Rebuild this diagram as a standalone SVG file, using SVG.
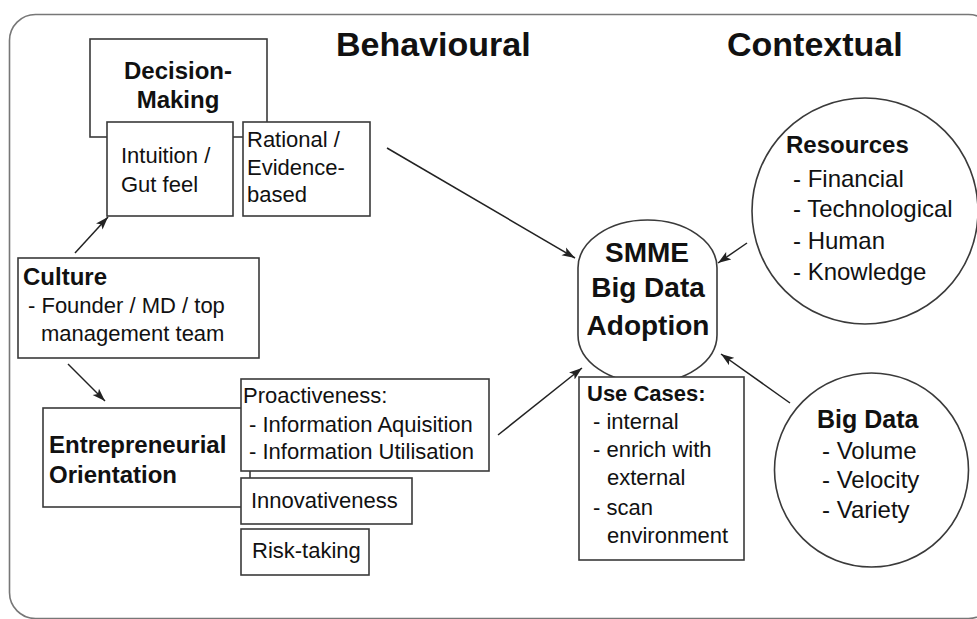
<svg xmlns="http://www.w3.org/2000/svg" width="977" height="619" viewBox="0 0 977 619">
<style>
  .box { fill: #fff; stroke: #3a3a3a; stroke-width: 1.6; }
  .frame { fill: #fff; stroke: #777; stroke-width: 1.6; }
  .t { font-family: "Liberation Sans", Arial, sans-serif; font-size: 22px; fill: #111; }
  .b { font-family: "Liberation Sans", Arial, sans-serif; font-weight: bold; font-size: 24px; fill: #111; }
  .r24 { font-family: "Liberation Sans", Arial, sans-serif; font-size: 24px; fill: #111; }
  .title { font-family: "Liberation Sans", Arial, sans-serif; font-weight: bold; font-size: 34px; fill: #111; }
  .smme { font-family: "Liberation Sans", Arial, sans-serif; font-weight: bold; font-size: 28px; fill: #111; text-anchor: middle; }
  .conn { stroke: #222; stroke-width: 1.5; fill: none; marker-end: url(#ah); }
</style>
<defs>
  <marker id="ah" markerUnits="userSpaceOnUse" markerWidth="14" markerHeight="10" refX="13" refY="5" orient="auto">
    <path d="M0,0.5 L13,5 L0,9.5 L3,5 Z" fill="#222"/>
  </marker>
</defs>
<rect class="frame" x="9.5" y="14.5" width="985" height="604" rx="26"/>
<text class="title" x="336" y="56">Behavioural</text>
<text class="title" x="727" y="56">Contextual</text>

<g id="decision-making">
  <rect class="box" x="90" y="39" width="177" height="98"/>
  <text class="b" x="178" y="79" text-anchor="middle">Decision-</text>
  <text class="b" x="178" y="108" text-anchor="middle">Making</text>
</g>
<g id="intuition">
  <rect class="box" x="107" y="122" width="126" height="94"/>
  <text class="t" x="121" y="163">Intuition /</text>
  <text class="t" x="121" y="192">Gut feel</text>
</g>
<g id="rational">
  <rect class="box" x="243" y="122" width="127" height="94"/>
  <text class="t" x="247" y="147">Rational /</text>
  <text class="t" x="247" y="175">Evidence-</text>
  <text class="t" x="247" y="202">based</text>
</g>
<g id="culture">
  <rect class="box" x="18" y="258" width="241" height="100"/>
  <text class="b" x="23" y="285">Culture</text>
  <text class="t" x="28" y="313">- Founder / MD / top</text>
  <text class="t" x="41" y="341">management team</text>
</g>
<g id="entrepreneurial-orientation">
  <rect class="box" x="43" y="408" width="207" height="99"/>
  <text class="b" x="49" y="453">Entrepreneurial</text>
  <text class="b" x="49" y="483">Orientation</text>
</g>
<g id="proactiveness">
  <rect class="box" x="241" y="379" width="248" height="92"/>
  <text class="t" x="243" y="403">Proactiveness:</text>
  <text class="t" x="249" y="432">- Information Aquisition</text>
  <text class="t" x="249" y="459">- Information Utilisation</text>
</g>
<g id="innovativeness">
  <rect class="box" x="241" y="478" width="171" height="46"/>
  <text class="t" x="251" y="508">Innovativeness</text>
</g>
<g id="risk-taking">
  <rect class="box" x="241" y="529" width="128" height="46"/>
  <text class="t" x="252" y="558">Risk-taking</text>
</g>
<g id="smme-adoption">
  <rect class="box" x="578" y="220" width="139" height="163" rx="69.5" ry="48"/>
  <text class="smme" x="647" y="262">SMME</text>
  <text class="smme" x="648" y="297">Big Data</text>
  <text class="smme" x="648" y="335">Adoption</text>
</g>
<g id="use-cases">
  <rect class="box" x="579" y="377" width="165" height="183"/>
  <text class="b" x="587" y="401" style="font-size:22px">Use Cases:</text>
  <text class="t" x="593" y="429">- internal</text>
  <text class="t" x="593" y="457">- enrich with</text>
  <text class="t" x="607" y="485">external</text>
  <text class="t" x="593" y="515">- scan</text>
  <text class="t" x="607" y="543">environment</text>
</g>
<g id="resources">
  <circle class="box" cx="865" cy="211" r="113"/>
  <text class="b" x="786" y="153">Resources</text>
  <text class="r24" x="793" y="187">- Financial</text>
  <text class="r24" x="793" y="217">- Technological</text>
  <text class="r24" x="793" y="249">- Human</text>
  <text class="r24" x="793" y="280">- Knowledge</text>
</g>
<g id="big-data">
  <circle class="box" cx="871.5" cy="470" r="97"/>
  <text class="b" x="817" y="428" style="font-size:25px">Big Data</text>
  <text class="r24" x="822" y="459">- Volume</text>
  <text class="r24" x="822" y="488">- Velocity</text>
  <text class="r24" x="822" y="518">- Variety</text>
</g>

<g id="connectors">
  <line class="conn" x1="75" y1="253" x2="108" y2="217"/>
  <line class="conn" x1="68" y1="364" x2="105" y2="401"/>
  <line class="conn" x1="387" y1="148" x2="575" y2="258"/>
  <line class="conn" x1="747" y1="243" x2="718" y2="263"/>
  <line class="conn" x1="498" y1="435" x2="582" y2="368"/>
  <line class="conn" x1="790" y1="403" x2="721" y2="354"/>
</g>
</svg>
